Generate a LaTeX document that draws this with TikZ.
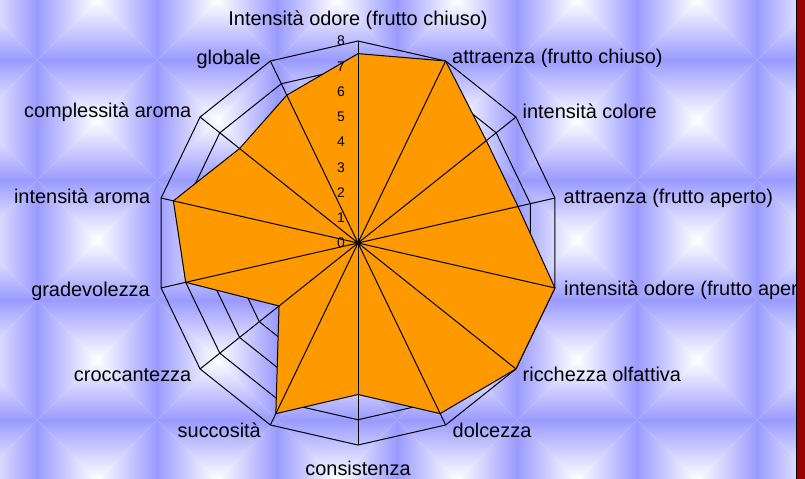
\documentclass[tikz,border=0pt]{standalone}
\usepackage{fontspec}
\setmainfont{Liberation Sans}
\definecolor{bgblue}{RGB}{153,153,255}
\definecolor{fruit}{RGB}{255,153,0}
\definecolor{edgered}{RGB}{153,0,0}
\colorlet{bgmid}{bgblue!45!white}
\begin{document}
\begin{tikzpicture}[x=1bp,y=-1bp,
  gridline/.style={black,line width=1bp},
  spoke/.style={black,line width=1bp},
  area/.style={fill=fruit,draw=black,line width=1bp,line join=miter},
  axlabel/.style={inner sep=0pt,font=\fontsize{20}{23}\selectfont},
  ticklabel/.style={inner sep=0pt,font=\fontsize{14}{16}\selectfont,anchor=base east}]
\useasboundingbox (0,0) rectangle (805,479);
% background tiles
\begin{scope}
\clip (0,0) rectangle (805,479);
\foreach \i in {-1,...,6}{
 \foreach \j in {0,...,4}{
  \pgfmathsetmacro\cx{97+120*\i}
  \pgfmathsetmacro\cy{120*\j}
  \begin{scope}
   \clip (\cx-60,\cy-60) -- (\cx+60,\cy-60) -- (\cx,\cy) -- cycle;
   \shade[top color=bgblue,middle color=bgmid,bottom color=white] (\cx-61,\cy-61) rectangle (\cx+61,\cy);
  \end{scope}
  \begin{scope}
   \clip (\cx-60,\cy+60) -- (\cx+60,\cy+60) -- (\cx,\cy) -- cycle;
   \shade[top color=white,middle color=bgmid,bottom color=bgblue] (\cx-61,\cy) rectangle (\cx+61,\cy+61);
  \end{scope}
  \begin{scope}
   \clip (\cx-60,\cy-60) -- (\cx-60,\cy+60) -- (\cx,\cy) -- cycle;
   \shade[left color=bgblue,middle color=bgmid,right color=white] (\cx-61,\cy-61) rectangle (\cx,\cy+61);
  \end{scope}
  \begin{scope}
   \clip (\cx+60,\cy-60) -- (\cx+60,\cy+60) -- (\cx,\cy) -- cycle;
   \shade[left color=white,middle color=bgmid,right color=bgblue] (\cx,\cy-61) rectangle (\cx+61,\cy+61);
  \end{scope}
 }}
\end{scope}
% coordinates
\coordinate (c) at (358,243);
\foreach \k in {0,...,13}
  \coordinate (o\k) at ({358+202*sin(\k*360/14)},{243-202*cos(\k*360/14)});
% rings
\foreach \v in {1,...,8}
  \draw[gridline] (358,{243-25.25*\v})
    \foreach \k in {1,...,13}{ -- ({358+25.25*\v*sin(\k*360/14)},{243-25.25*\v*cos(\k*360/14)}) } -- cycle;
% data polygon
\foreach \k/\v in {0/7.5,1/8,2/6.5,3/6.5,4/8,5/8,6/7.5,7/6,8/7.5,9/4,10/7,11/7.5,12/6,13/6.5}
  \coordinate (p\k) at ({358+25.25*\v*sin(\k*360/14)},{243-25.25*\v*cos(\k*360/14)});
\draw[area] (p0) -- (p1) -- (p2) -- (p3) -- (p4) -- (p5) -- (p6) -- (p7) -- (p8) -- (p9) -- (p10) -- (p11) -- (p12) -- (p13) -- cycle;
% spokes
\foreach \k in {0,...,13}
  \draw[spoke] (c) -- (o\k);
% tick labels
\foreach \v in {0,...,8}
  \node[ticklabel] (t\v) at (345,{248-25.25*\v}) {\v};
% axis labels
\node[axlabel,anchor=base] (l0) at (358,26) {Intensità odore (frutto chiuso)};
\node[axlabel,anchor=base west] (l1) at (452,63.5) {attraenza (frutto chiuso)};
\node[axlabel,anchor=base west] (l2) at (522.5,118.3) {intensità colore};
\node[axlabel,anchor=base west] (l3) at (563.5,204) {attraenza (frutto aperto)};
\node[axlabel,anchor=base west] (l4) at (564,296) {intensità odore (frutto aperto)};
\node[axlabel,anchor=base west] (l5) at (522.5,381) {ricchezza olfattiva};
\node[axlabel,anchor=base west] (l6) at (452.5,437) {dolcezza};
\node[axlabel,anchor=base] (l7) at (358,475) {consistenza};
\node[axlabel,anchor=base east] (l8) at (261,437) {succosità};
\node[axlabel,anchor=base east] (l9) at (191.5,381.7) {croccantezza};
\node[axlabel,anchor=base east] (l10) at (150,297) {gradevolezza};
\node[axlabel,anchor=base east] (l11) at (150.5,203.3) {intensità aroma};
\node[axlabel,anchor=base east] (l12) at (191.5,118) {complessità aroma};
\node[axlabel,anchor=base east] (l13) at (261,64.3) {globale};
% right border
\fill[edgered] (797,0) rectangle (805,479);
\draw[black,line width=1.6bp] (796.3,0) -- (796.3,479);
\end{tikzpicture}
\end{document}
